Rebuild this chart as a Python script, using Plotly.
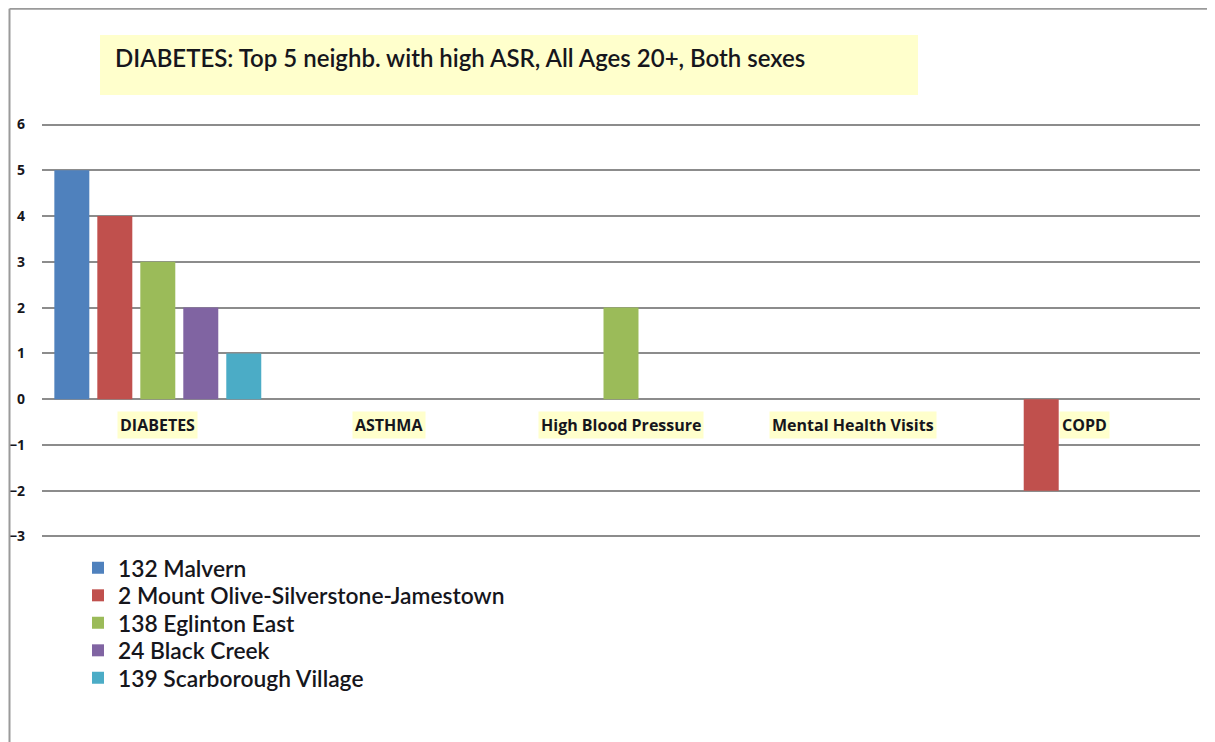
import plotly.graph_objects as go

categories = ["DIABETES", "ASTHMA", "High Blood Pressure", "Mental Health Visits", "COPD"]
series_names = [
    "132 Malvern",
    "2 Mount Olive-Silverstone-Jamestown",
    "138 Eglinton East",
    "24 Black Creek",
    "139 Scarborough Village",
]
malvern = [5, None, None, None, None]
mount_olive = [4, None, None, None, -2]
eglinton_east = [3, None, 2, None, None]
black_creek = [2, None, None, None, None]
scarborough_village = [1, None, None, None, None]
series_values = [malvern, mount_olive, eglinton_east, black_creek, scarborough_village]
colors = ["#4F81BD", "#C0504D", "#9BBB59", "#8064A2", "#4BACC6"]

title_text = "DIABETES: Top 5 neighb. with high ASR, All Ages 20+, Both sexes"
y_ticks = [-3, -2, -1, 0, 1, 2, 3, 4, 5, 6]

# page has an 8px body margin; figure is sized so nothing overflows
OFF = 8
W, H = 1207, 734
L, R, T, B = 34, 15, 112, 201
pw = W - L - R
ph = H - T - B

def px_x(p):  # page x -> paper x
    return (p - OFF - L) / pw

def px_y(p):  # page y -> paper y
    return (H - B - (p - OFF)) / ph

text_col = "#16161c"
font_fam = "Open Sans"
big_fam = "Lato"

legend_rows = [568, 595.5, 623, 650.5, 678]

fig = go.Figure()
for i, (name, vals, col) in enumerate(zip(series_names, series_values, colors)):
    lg = "legend" if i == 0 else f"legend{i + 1}"
    fig.add_trace(go.Bar(x=categories, y=vals, name=name, marker_color=col,
                         marker_line_width=0, legend=lg))

# category labels with yellow background at y=0
for c in categories:
    fig.add_annotation(x=c, y=0, xref="x", yref="y", text=c, showarrow=False,
                       yanchor="top", yshift=-12, bgcolor="#FFFFCC", borderpad=2,
                       font=dict(family=font_fam, size=16, color=text_col, weight="bold"))

# title box
fig.add_shape(type="rect", xref="paper", yref="paper",
              x0=px_x(100), x1=px_x(918), y0=px_y(95), y1=px_y(35),
              fillcolor="#FFFFCC", line_width=0, layer="below")
fig.add_annotation(xref="paper", yref="paper", x=px_x(113), y=px_y(58),
                   xanchor="left", yanchor="middle", showarrow=False, text=title_text,
                   font=dict(family=big_fam, size=24, color=text_col, weight=600))

# outer frame lines (left and top)
fig.add_shape(type="line", xref="paper", yref="paper",
              x0=px_x(9.5), x1=px_x(9.5), y0=px_y(8.8), y1=px_y(760),
              line=dict(color="#9a9a9a", width=2))
fig.add_shape(type="line", xref="paper", yref="paper",
              x0=px_x(9.5), x1=px_x(1230), y0=px_y(8.8), y1=px_y(8.8),
              line=dict(color="#9a9a9a", width=2))

legend_common = dict(xanchor="left", yanchor="middle",
                     font=dict(family=big_fam, size=22.8, color=text_col, weight=600),
                     bgcolor="rgba(0,0,0,0)")
layout_legends = {}
for i, yrow in enumerate(legend_rows):
    key = "legend" if i == 0 else f"legend{i + 1}"
    layout_legends[key] = dict(x=px_x(78), y=px_y(yrow), **legend_common)

fig.update_layout(
    width=W, height=H,
    margin=dict(l=L, r=R, t=T, b=B, autoexpand=False),
    paper_bgcolor="white", plot_bgcolor="white",
    barmode="group", bargap=0.072, bargroupgap=0.186,
    showlegend=True,
    xaxis=dict(showticklabels=False, showgrid=False, showline=False, zeroline=False,
               ticks=""),
    yaxis=dict(range=[-3.1, 6.1], tickvals=y_ticks, showgrid=True,
               gridcolor="#8c8c8c", gridwidth=1.5, zeroline=True,
               zerolinecolor="#8c8c8c", zerolinewidth=1.5, showline=False,
               ticklabelstandoff=16,
               tickfont=dict(family=font_fam, size=14, color=text_col, weight="bold")),
    **layout_legends,
)

fig.write_html("out.html")
